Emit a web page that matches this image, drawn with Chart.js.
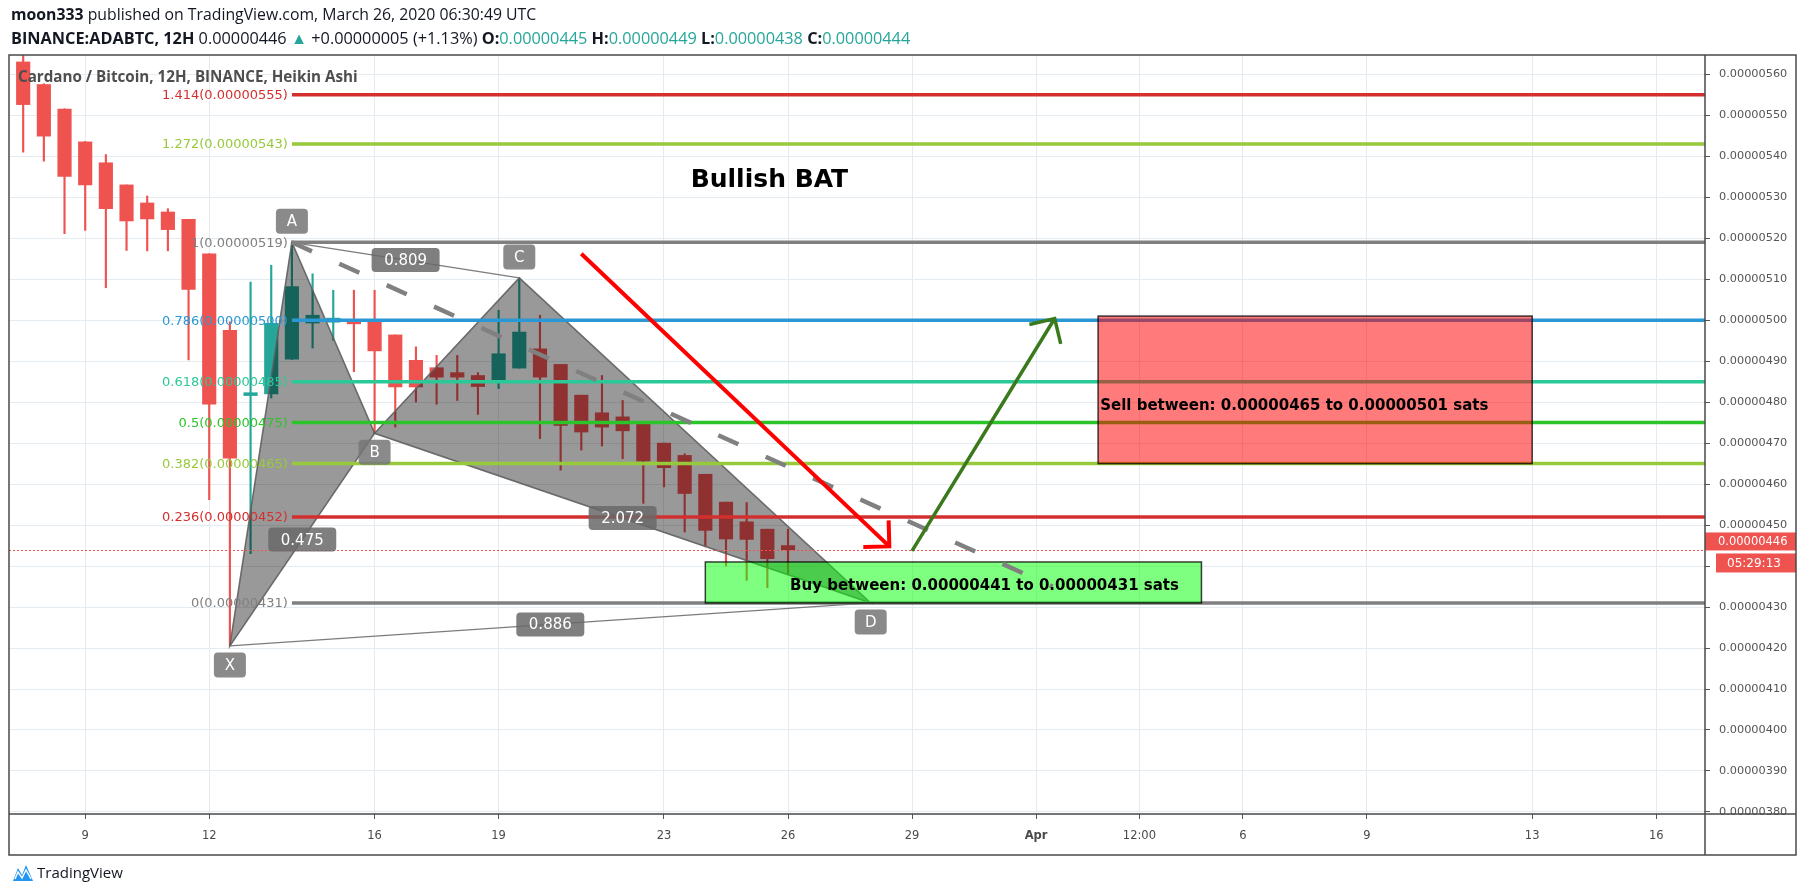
<!DOCTYPE html>
<html>
<head>
<meta charset="utf-8">
<title>ADABTC Bullish BAT</title>
<script src="https://cdn.jsdelivr.net/npm/chart.js@4.4.1/dist/chart.umd.min.js"></script>
<style>
	html, body { margin: 0; padding: 0; background: #fff; }
	body { width: 1805px; height: 894px; position: relative; overflow: hidden; font-family: "Open Sans", sans-serif; color: #131722; }
	#chart { position: absolute; left: 0; top: 0; }
	.line { position: absolute; left: 11px; white-space: nowrap; font-size: 15.8px; line-height: 20px; }
	.line b { font-weight: 700; }
	.up { color: #26a69a; }
	#title { position: absolute; left: 18px; top: 66px; font-size: 15.2px; line-height: 20px; font-weight: 700; color: #4e4e4e; white-space: nowrap; }
	#logo { position: absolute; left: 12px; top: 861px; height: 22px; display: flex; align-items: center; font-size: 15px; color: #131722; }
	#logo svg { margin-right: 3px; }
</style>
</head>
<body>
<canvas id="chart" width="1805" height="894"></canvas>
<div class="line" style="top:4px"><b>moon333</b> published on TradingView.com, March 26, 2020 06:30:49 UTC</div>
<div class="line" style="top:28px;font-size:16.3px"><b>BINANCE:ADABTC, 12H</b> 0.00000446 <span class="up">▲</span> +0.00000005 (+1.13%) <b>O:</b><span class="up">0.00000445</span> <b>H:</b><span class="up">0.00000449</span> <b>L:</b><span class="up">0.00000438</span> <b>C:</b><span class="up">0.00000444</span></div>
<div id="title">Cardano / Bitcoin, 12H, BINANCE, Heikin Ashi</div>
<div id="logo"><svg width="22" height="20" viewBox="0 0 22 20"><path d="M1 19 L6 6 L10 13 L14 3 L21 19 Z" fill="#2196f3"/><path d="M3 17 L6 10 L10 16 L14 8 L19 17" fill="none" stroke="#fff" stroke-width="1.4"/></svg>TradingView</div>
<script>
(() => {
	'use strict'

	// 12H Heikin Ashi candles. Time = day of March 2020 (Apr 1 = 32), prices in satoshi (1e-8 BTC)
	const candleTime  = [7.5, 8, 8.5, 9, 9.5, 10, 10.5, 11, 11.5, 12, 12.5, 13, 13.5, 14, 14.5, 15, 15.5, 16, 16.5, 17, 17.5, 18, 18.5, 19, 19.5, 20, 20.5, 21, 21.5, 22, 22.5, 23, 23.5, 24, 24.5, 25, 25.5, 26];
	const candleOpen  = [563, 557.5, 551.5, 543.5, 538.4, 533, 528.6, 526.4, 524.6, 516.2, 497.5, 481.6, 482, 490.5, 499.3, 499.5, 500, 500, 496.4, 490.2, 488.4, 487.2, 486.5, 484.9, 488.3, 493, 489.2, 481.7, 477.4, 476.4, 474.6, 470, 467, 462.4, 455.6, 450.8, 449, 445];
	const candleHigh  = [566, 557.7, 551.6, 543.6, 540.4, 533, 530.3, 527.2, 524.6, 516.2, 499.6, 509.3, 513.4, 519, 511.3, 507.3, 507.3, 507.3, 496.4, 493.5, 491.4, 491.4, 487.2, 502.4, 510.3, 501.2, 489.2, 481.7, 486.5, 480.4, 474.6, 470, 467.4, 462.4, 455.6, 455.5, 449, 449];
	const candleLow   = [541, 538.8, 521.1, 521.9, 507.9, 517, 516.9, 516.9, 490.3, 456.2, 420.5, 443, 481, 490.4, 493.2, 495.1, 487.4, 472.4, 473.9, 480, 479.5, 480.4, 477, 483.3, 488.3, 471.1, 463.4, 468.3, 469.3, 466.2, 455.3, 459.3, 448.3, 444.7, 440, 436.5, 434.7, 438];
	const candleClose = [552.6, 544.9, 535.1, 533, 527.2, 524.2, 524.7, 522.1, 507.5, 479.5, 466.3, 482.3, 499.2, 508.2, 501.2, 500.5, 499.1, 492.5, 483.7, 483.7, 486.1, 486.1, 483.8, 491.8, 497.1, 486.1, 474.3, 472.7, 473.9, 473, 465.6, 464, 457.7, 448.7, 446.6, 446.5, 441.8, 444];

	// Axis ticks
	const timeTicks  = [9, 12, 16, 19, 23, 26, 29, 32, 34.5, 37, 40, 44, 47];
	const timeLabels = ['9', '12', '16', '19', '23', '26', '29', 'Apr', '12:00', '6', '9', '13', '16'];
	const priceTicks = [380, 390, 400, 410, 420, 430, 440, 450, 460, 470, 480, 490, 500, 510, 520, 530, 540, 550, 560];

	// Fibonacci retracement drawn from A
	const fibRatio = ['1.414', '1.272', '1', '0.786', '0.618', '0.5', '0.382', '0.236', '0'];
	const fibPrice = [555, 543, 519, 500, 485, 475, 465, 452, 431];
	const fibColor = ['#d32f2f', '#97c93d', '#808080', '#2a98d4', '#2bc998', '#2bc42b', '#97c93d', '#d32f2f', '#808080'];
	const fibStart = 14;

	// XABCD bat pattern
	const patternName  = ['X', 'A', 'B', 'C', 'D'];
	const patternTime  = [12.5, 14, 16, 19.5, 28];
	const patternPrice = [420.5, 519, 472.4, 510.3, 431];
	const ratioText = ['0.475', '0.809', '2.072', '0.886'];
	const ratioFrom = [0, 1, 2, 0];
	const ratioTo   = [2, 3, 4, 4];

	// Trend lines: [startTime, startPrice, endTime, endPrice]
	const dashedLine = [14, 519, 32.4, 435];
	const redArrow   = [21, 516.2, 28.45, 444.8];
	const greenArrow = [29, 443.7, 32.45, 500.4];

	// Zones: [fromTime, toTime, low, high]
	const sellZone = [33.5, 44, 465, 501];
	const buyZone  = [24, 36, 431, 441];
	const sellText = 'Sell between: 0.00000465 to 0.00000501 sats';
	const buyText  = 'Buy between: 0.00000441 to 0.00000431 sats';
	const sellTextAt = [33.55, 479];
	const buyTextAt  = [26.05, 435];
	const headline = 'Bullish BAT';
	const headlineAt = [25.55, 534];

	const closeLine = 444;
	const lastPrice = 446;
	const countdown = '05:29:13';

	const upColor = '#26a69a';
	const downColor = '#ef5350';
	const candleColors = candleTime.map((t, i) => candleClose[i] >= candleOpen[i] ? upColor : downColor);

	const fmt = v => (v / 1e8).toFixed(8);

	function roundRect(ctx, x, y, w, h, r) {
		ctx.beginPath();
		ctx.moveTo(x + r, y);
		ctx.lineTo(x + w - r, y);
		ctx.quadraticCurveTo(x + w, y, x + w, y + r);
		ctx.lineTo(x + w, y + h - r);
		ctx.quadraticCurveTo(x + w, y + h, x + w - r, y + h);
		ctx.lineTo(x + r, y + h);
		ctx.quadraticCurveTo(x, y + h, x, y + h - r);
		ctx.lineTo(x, y + r);
		ctx.quadraticCurveTo(x, y, x + r, y);
		ctx.closePath();
	}

	function drawArrow(ctx, x1, y1, x2, y2, color, width) {
		const ang = Math.atan2(y1 - y2, x1 - x2);
		const len = 26;
		ctx.strokeStyle = color;
		ctx.lineWidth = width;
		ctx.lineCap = 'butt';
		ctx.beginPath();
		ctx.moveTo(x1, y1);
		ctx.lineTo(x2, y2);
		ctx.moveTo(x2 + len * Math.cos(ang - Math.PI / 4), y2 + len * Math.sin(ang - Math.PI / 4));
		ctx.lineTo(x2, y2);
		ctx.lineTo(x2 + len * Math.cos(ang + Math.PI / 4), y2 + len * Math.sin(ang + Math.PI / 4));
		ctx.stroke();
	}

	// Drawings on top of the candles
	const drawingsPlugin = {
		id: 'drawings',
		afterDatasetsDraw(chart) {
			const { ctx, chartArea: a, scales: { x, y } } = chart;
			const px = v => x.getPixelForValue(v);
			const py = v => y.getPixelForValue(v);
			const pt = i => [px(patternTime[i]), py(patternPrice[i])];

			ctx.save();
			ctx.beginPath();
			ctx.rect(a.left, a.top, a.right - a.left, a.bottom - a.top);
			ctx.clip();

			// pattern triangles XAB and BCD
			[[0, 1, 2], [2, 3, 4]].forEach(tri => {
				ctx.beginPath();
				tri.forEach((p, k) => {
					const [xx, yy] = pt(p);
					if (k === 0) ctx.moveTo(xx, yy); else ctx.lineTo(xx, yy);
				});
				ctx.closePath();
				ctx.fillStyle = 'rgba(0, 0, 0, 0.4)';
				ctx.fill();
				ctx.strokeStyle = 'rgba(95, 95, 95, 0.9)';
				ctx.lineWidth = 1.6;
				ctx.stroke();
			});

			// thin AC and XD legs
			ctx.strokeStyle = 'rgba(110, 110, 110, 0.9)';
			ctx.lineWidth = 1.2;
			[[1, 3], [0, 4]].forEach(([p, q]) => {
				ctx.beginPath();
				ctx.moveTo(...pt(p));
				ctx.lineTo(...pt(q));
				ctx.stroke();
			});

			// fib levels
			ctx.lineWidth = 3.5;
			fibPrice.forEach((p, i) => {
				ctx.strokeStyle = fibColor[i];
				ctx.beginPath();
				ctx.moveTo(px(fibStart), py(p));
				ctx.lineTo(a.right, py(p));
				ctx.stroke();
			});

			// zones
			const zone = (z, fill) => {
				const x0 = px(z[0]), x1 = px(z[1]), y0 = py(z[3]), y1 = py(z[2]);
				ctx.fillStyle = fill;
				ctx.fillRect(x0, y0, x1 - x0, y1 - y0);
				ctx.strokeStyle = 'rgba(0, 0, 0, 0.75)';
				ctx.lineWidth = 1.5;
				ctx.strokeRect(x0, y0, x1 - x0, y1 - y0);
			};
			zone(sellZone, 'rgba(255, 0, 0, 0.52)');
			zone(buyZone, 'rgba(0, 255, 0, 0.5)');

			// last close dotted line
			ctx.strokeStyle = '#ef5350';
			ctx.lineWidth = 1;
			ctx.setLineDash([2, 2]);
			ctx.beginPath();
			ctx.moveTo(a.left, Math.round(py(closeLine)) + 0.5);
			ctx.lineTo(a.right, Math.round(py(closeLine)) + 0.5);
			ctx.stroke();

			// dashed projection from A
			ctx.strokeStyle = '#808080';
			ctx.lineWidth = 4.5;
			ctx.setLineDash([22, 30]);
			ctx.beginPath();
			ctx.moveTo(px(dashedLine[0]), py(dashedLine[1]));
			ctx.lineTo(px(dashedLine[2]), py(dashedLine[3]));
			ctx.stroke();
			ctx.setLineDash([]);

			// arrows
			drawArrow(ctx, px(redArrow[0]), py(redArrow[1]), px(redArrow[2]), py(redArrow[3]), '#ff0000', 4);
			drawArrow(ctx, px(greenArrow[0]), py(greenArrow[1]), px(greenArrow[2]), py(greenArrow[3]), '#3b7a1c', 3.5);

			// fib labels
			ctx.font = '13px "DejaVu Sans"';
			ctx.textAlign = 'right';
			ctx.textBaseline = 'middle';
			fibPrice.forEach((p, i) => {
				ctx.fillStyle = fibColor[i];
				ctx.fillText(fibRatio[i] + '(' + fmt(p) + ')', px(fibStart) - 4, py(p) + 1);
			});

			// ratio labels at leg midpoints
			ctx.font = '15px "DejaVu Sans"';
			ctx.textAlign = 'center';
			ratioText.forEach((t, i) => {
				const [ax, ay] = pt(ratioFrom[i]);
				const [bx, by] = pt(ratioTo[i]);
				const cx = (ax + bx) / 2, cy = (ay + by) / 2;
				roundRect(ctx, cx - 34, cy - 12, 68, 24, 4);
				ctx.fillStyle = 'rgba(105, 105, 105, 0.85)';
				ctx.fill();
				ctx.fillStyle = '#fff';
				ctx.fillText(t, cx, cy + 1);
			});

			// point labels
			patternName.forEach((n, i) => {
				const [cx, py0] = pt(i);
				const cy = (i === 1 || i === 3) ? py0 - 21 : py0 + 19;
				roundRect(ctx, cx - 16, cy - 12.5, 32, 25, 4);
				ctx.fillStyle = 'rgba(118, 118, 118, 0.85)';
				ctx.fill();
				ctx.fillStyle = '#fff';
				ctx.fillText(n, cx, cy + 1);
			});

			// zone texts
			ctx.fillStyle = '#000';
			ctx.font = 'bold 15px "DejaVu Sans"';
			ctx.textAlign = 'left';
			ctx.fillText(sellText, px(sellTextAt[0]), py(sellTextAt[1]));
			ctx.fillText(buyText, px(buyTextAt[0]), py(buyTextAt[1]));

			// headline
			ctx.font = 'bold 25px "DejaVu Sans"';
			ctx.textAlign = 'center';
			ctx.fillText(headline, px(headlineAt[0]), py(headlineAt[1]));

			ctx.restore();
		},
		afterDraw(chart) {
			const { ctx, chartArea: a, scales: { y } } = chart;
			const right = 1796, bottom = 855;
			ctx.save();

			// price and countdown tags on the axis
			const ly = y.getPixelForValue(lastPrice);
			ctx.fillStyle = '#ef5350';
			ctx.fillRect(a.right, ly - 9, right - a.right, 18);
			ctx.fillRect(a.right + 11, ly + 12, right - a.right - 11, 19);
			ctx.fillStyle = '#fff';
			ctx.font = '11.5px "DejaVu Sans"';
			ctx.textAlign = 'left';
			ctx.textBaseline = 'middle';
			ctx.fillText(fmt(lastPrice), a.right + 13, ly + 0.5);
			ctx.font = '12px "DejaVu Sans"';
			ctx.fillText(countdown, a.right + 22, ly + 22);

			// frame
			ctx.strokeStyle = '#4a4a4a';
			ctx.lineWidth = 1.5;
			ctx.strokeRect(a.left, a.top, right - a.left, bottom - a.top);
			ctx.beginPath();
			ctx.moveTo(a.right, a.top);
			ctx.lineTo(a.right, bottom);
			ctx.moveTo(a.left, a.bottom);
			ctx.lineTo(right, a.bottom);
			ctx.stroke();
			ctx.restore();
		}
	};

	const gridColor = '#e4ebf1';

	const config = {
		type: 'bar',
		data: {
			datasets: [
				{
					label: 'Wicks',
					data: candleTime.map((t, i) => ({ x: t, y: [candleLow[i], candleHigh[i]] })),
					backgroundColor: candleColors,
					barThickness: 1.5,
					grouped: false,
					order: 2,
				},
				{
					label: 'Bodies',
					data: candleTime.map((t, i) => ({ x: t, y: [candleOpen[i], candleClose[i]] })),
					backgroundColor: candleColors,
					barThickness: 13.5,
					minBarLength: 2,
					grouped: false,
					order: 1,
				}
			]
		},
		options: {
			responsive: false,
			animation: false,
			layout: {
				padding: { left: 9, top: 55, right: 9, bottom: 39 }
			},
			plugins: {
				legend: { display: false },
				title: { display: false },
				tooltip: { enabled: false }
			},
			scales: {
				x: {
					type: 'linear',
					offset: false,
					min: 7.157,
					max: 48.18,
					afterBuildTicks: s => { s.ticks = timeTicks.map(v => ({ value: v })); },
					afterFit: s => { s.height = 41; },
					ticks: {
						autoSkip: false,
						maxRotation: 0,
						padding: 10,
						color: '#4a4a4a',
						callback: (v, i) => timeLabels[i],
						font: ctx => ({ family: 'DejaVu Sans', size: 11.5, weight: timeLabels[ctx.index] === 'Apr' ? 'bold' : 'normal' })
					},
					grid: { offset: false, color: gridColor, tickColor: '#555', tickLength: 5 },
					border: { display: false }
				},
				y: {
					type: 'linear',
					position: 'right',
					min: 379.5,
					max: 564.7,
					afterBuildTicks: s => { s.ticks = priceTicks.map(v => ({ value: v })); },
					afterFit: s => { s.width = 91; },
					ticks: {
						padding: 9,
						color: '#555',
						font: { family: 'DejaVu Sans', size: 11.3 },
						callback: v => fmt(v)
					},
					grid: { color: gridColor, tickColor: '#555', tickLength: 5 },
					border: { display: false }
				}
			}
		},
		plugins: [drawingsPlugin]
	};

	new Chart(document.getElementById('chart'), config);
})()
</script>
</body>
</html>
